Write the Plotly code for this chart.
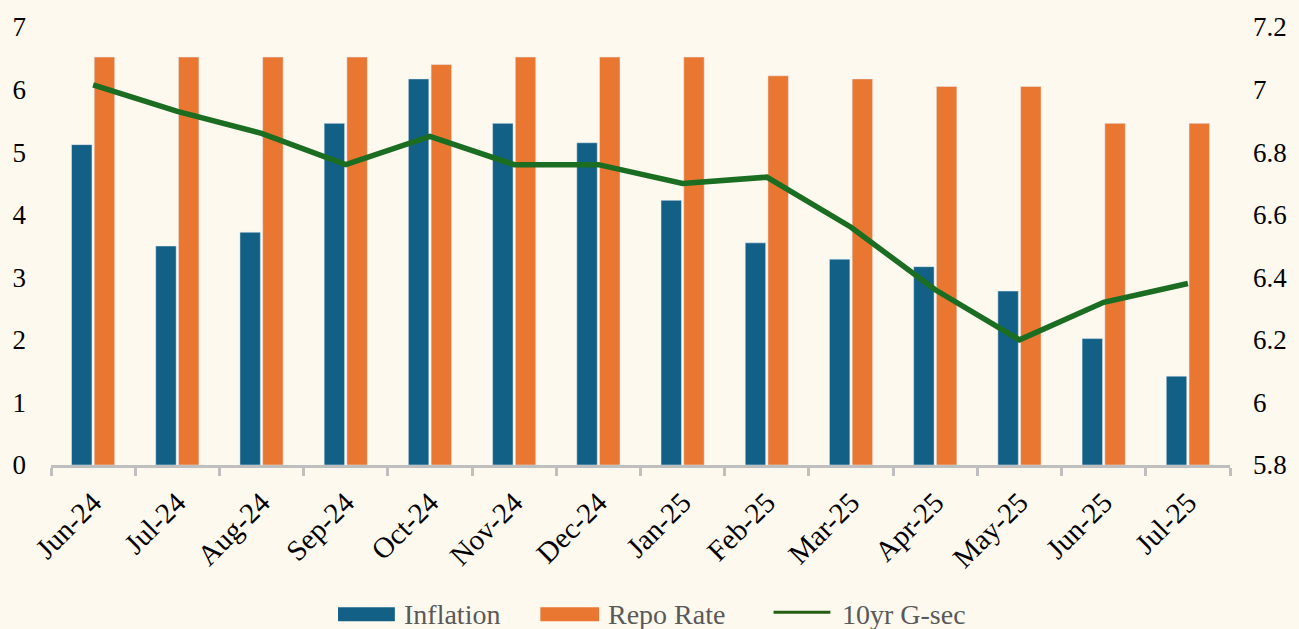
import plotly.graph_objects as go

months = ["Jun-24", "Jul-24", "Aug-24", "Sep-24", "Oct-24", "Nov-24", "Dec-24",
          "Jan-25", "Feb-25", "Mar-25", "Apr-25", "May-25", "Jun-25", "Jul-25"]
inflation = [5.12, 3.50, 3.72, 5.46, 6.17, 5.46, 5.15, 4.23, 3.55, 3.29, 3.17, 2.78, 2.02, 1.42]
repo_rate = [6.52, 6.52, 6.52, 6.52, 6.40, 6.52, 6.52, 6.52, 6.22, 6.17, 6.05, 6.05, 5.46, 5.46]
gsec_10yr = [7.015, 6.93, 6.86, 6.76, 6.85, 6.76, 6.76, 6.70, 6.72, 6.56, 6.36, 6.20, 6.32, 6.38]

left_ticks = [0, 1, 2, 3, 4, 5, 6, 7]
right_ticks = [5.8, 6.0, 6.2, 6.4, 6.6, 6.8, 7.0, 7.2]

BLUE = "#136087"
ORANGE = "#E97731"
GREEN = "#1B6D21"
BG = "#FEF9EF"
FONT = "Liberation Serif"

fig = go.Figure()
fig.add_trace(go.Bar(x=months, y=inflation, name="Inflation", marker_color=BLUE, yaxis="y"))
fig.add_trace(go.Bar(x=months, y=repo_rate, name="Repo Rate", marker_color=ORANGE, yaxis="y"))
fig.add_trace(go.Scatter(x=months, y=gsec_10yr, name="10yr G-sec", mode="lines",
                         line=dict(color=GREEN, width=5.5), yaxis="y2"))

L, R, T, B = 50, 66, 25, 164
W, H = 1299, 629
pw, ph = W - L - R, H - T - B

def px_x(p):
    return (p - L) / pw

def px_y(p):
    return (H - B - p) / ph

# custom legend
legend_items = [
    ("Inflation", BLUE, "bar", 338, 395, 402),
    ("Repo Rate", ORANGE, "bar", 541, 600, 607),
    ("10yr G-sec", GREEN, "line", 775, 832, 842),
]
ly = 615
shapes = []
annotations = []
for name, col, kind, x0, x1, tx in legend_items:
    if kind == "bar":
        shapes.append(dict(type="rect", xref="paper", yref="paper",
                           x0=px_x(x0), x1=px_x(x1), y0=px_y(ly + 7), y1=px_y(ly - 7),
                           fillcolor=col, line=dict(width=0)))
    else:
        shapes.append(dict(type="line", xref="paper", yref="paper",
                           x0=px_x(x0), x1=px_x(x1), y0=px_y(ly - 2), y1=px_y(ly - 2),
                           line=dict(color="#245E12", width=3)))
    annotations.append(dict(text=name, xref="paper", yref="paper", x=px_x(tx), y=px_y(ly),
                            xanchor="left", yanchor="middle", showarrow=False,
                            font=dict(family=FONT, size=28, color="#595959")))

fig.update_layout(
    width=W, height=H,
    margin=dict(l=L, r=R, t=T, b=B, pad=0),
    paper_bgcolor=BG, plot_bgcolor=BG,
    font=dict(family=FONT, size=26, color="#000000"),
    barmode="group", bargap=0.46, bargroupgap=0.1,
    showlegend=False,
    shapes=shapes, annotations=annotations,
    xaxis=dict(type="category", tickson="boundaries", ticks="outside", ticklen=8,
               tickwidth=3, tickcolor="#BFBFBF", showline=True, linecolor="#BFBFBF",
               linewidth=3, tickangle=-45, showgrid=False, zeroline=False,
               ticklabelstandoff=6,
               tickfont=dict(family=FONT, size=29, color="#000000")),
    yaxis=dict(range=[0, 7], tickvals=left_ticks, showgrid=False, zeroline=False,
               showline=False, ticks="", ticklabelstandoff=24,
               tickfont=dict(family=FONT, size=27, color="#000000")),
    yaxis2=dict(range=[5.8, 7.2], tickvals=right_ticks, overlaying="y", side="right",
                showgrid=False, zeroline=False, showline=False, ticks="",
                ticklabelstandoff=22,
                tickfont=dict(family=FONT, size=27, color="#000000")),
)

fig.write_html("out.html",
               config={"displayModeBar": False},
               post_script="document.body.style.margin='0';document.body.style.padding='0';document.body.style.overflow='hidden';")
